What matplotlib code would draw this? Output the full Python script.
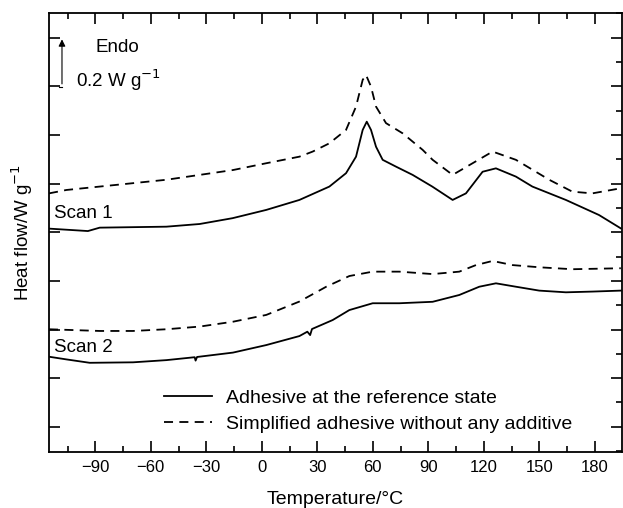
import numpy as np
import matplotlib.pyplot as plt
from matplotlib.ticker import MultipleLocator

plt.rcParams['font.family'] = ['Liberation Sans', 'DejaVu Sans']

# Scan 1, adhesive at the reference state (solid)
t1_ref = [-115, -94, -87.6, -51.6, -33.6, -15.8, 2.4, 20.3, 36.5, 45.5, 50.9, 54.5, 56.7,
          59.0, 61.7, 65.3, 72.5, 81.5, 92.1, 103.1, 110.3, 119.3, 126.5, 137.3, 146.2,
          164.3, 182.2, 194]
y1_ref = [0.815, 0.805, 0.819, 0.823, 0.834, 0.858, 0.892, 0.933, 0.988, 1.043, 1.111, 1.221, 1.255,
          1.221, 1.152, 1.098, 1.070, 1.036, 0.988, 0.933, 0.960, 1.049, 1.063, 1.029, 0.988,
          0.933, 0.871, 0.816]

# Scan 1, simplified adhesive (dashed)
t1_simp = [-115, -105.6, -87.6, -69.6, -51.6, -33.6, -15.6, 2.4, 20.3, 27.5, 36.5, 45.5, 50.9,
           54.5, 56.3, 59.0, 61.7, 67.1, 76.1, 86.9, 92.3, 103.1, 113.9, 124.7, 137.3, 155.3,
           167.8, 178.6, 194]
y1_simp = [0.960, 0.974, 0.988, 1.002, 1.016, 1.036, 1.056, 1.084, 1.111, 1.132, 1.166, 1.221, 1.317,
           1.427, 1.447, 1.399, 1.317, 1.249, 1.207, 1.139, 1.098, 1.036, 1.084, 1.132, 1.098, 1.016,
           0.967, 0.960, 0.981]

# Scan 2, adhesive at the reference state (solid)
t2_ref = [-115, -105.6, -93.0, -69.6, -51.6, -36.3, -35.8, -35.0, -15.6, 2.4, 20.3, 24.6, 26.1,
          27.1, 38.3, 47.3, 59.9, 74.3, 92.3, 106.7, 117.5, 126.5, 137.3, 149.9, 164.3, 178.6, 194]
y2_ref = [0.288, 0.277, 0.263, 0.265, 0.274, 0.286, 0.272, 0.287, 0.305, 0.336, 0.373, 0.391, 0.377,
          0.402, 0.439, 0.480, 0.508, 0.508, 0.514, 0.542, 0.576, 0.590, 0.576, 0.560, 0.553, 0.556, 0.560]

# Scan 2, simplified adhesive (dashed)
t2_simp = [-115, -87.6, -69.6, -51.6, -33.6, -15.6, 2.4, 20.3, 34.8, 47.3, 59.9, 74.3, 92.3,
           106.7, 115.7, 124.7, 135.5, 149.9, 167.8, 194]
y2_simp = [0.401, 0.394, 0.394, 0.401, 0.412, 0.432, 0.460, 0.515, 0.576, 0.620, 0.638, 0.638, 0.628,
           0.638, 0.665, 0.682, 0.665, 0.656, 0.648, 0.652]

fig = plt.figure(figsize=(6.23, 5.08), dpi=100)
ax = fig.add_axes([0.0787, 0.1102, 0.9193, 0.8642])

lw = 1.3
ax.plot(t1_ref, y1_ref, color='black', lw=lw, label='Adhesive at the reference state')
ax.plot(t1_simp, y1_simp, color='black', lw=lw, dashes=(5, 3.5),
        label='Simplified adhesive without any additive')
ax.plot(t2_ref, y2_ref, color='black', lw=lw)
ax.plot(t2_simp, y2_simp, color='black', lw=lw, dashes=(5, 3.5))

ax.set_xlim(-115, 194.5)
ax.set_ylim(-0.104, 1.702)
ax.xaxis.set_major_locator(MultipleLocator(30))
ax.xaxis.set_minor_locator(MultipleLocator(15))
ax.yaxis.set_major_locator(MultipleLocator(0.2))
ax.yaxis.set_minor_locator(MultipleLocator(0.1))
ax.set_yticklabels([])
ax.tick_params(which='major', direction='in', length=8, width=1.2, top=True, right=True,
               labelsize=12, pad=6)
ax.tick_params(which='minor', direction='in', length=4, width=1.2, top=True, right=True,
               left=False)
for s in ax.spines.values():
    s.set_linewidth(1.3)

ax.set_xlabel('Temperature/°C', fontsize=14, labelpad=11)
ax.set_ylabel('Heat flow/W g$^{-1}$', fontsize=13.5, labelpad=4)

ax.text(-90, 1.56, 'Endo', fontsize=13.5, va='center', ha='left')
ax.text(-100.2, 1.427, '0.2 W g$^{-1}$', fontsize=13.5, va='center', ha='left')
ax.annotate('', xy=(-108, 1.605), xytext=(-108, 1.399),
            arrowprops=dict(arrowstyle='-|>', color='black', lw=0.8, mutation_scale=10))
ax.plot([-109.5, -108], [1.399, 1.399], color='black', lw=0.8)

ax.text(-112.4, 0.879, 'Scan 1', fontsize=13.5, va='center', ha='left')
ax.text(-112.4, 0.327, 'Scan 2', fontsize=13.5, va='center', ha='left')

ax.legend(loc='upper left', bbox_to_anchor=(0.2, 0.142), frameon=False, fontsize=14,
          handlelength=2.5, handletextpad=0.7, labelspacing=0.4, borderpad=0, borderaxespad=0)

fig.savefig('out.png', dpi=100)
